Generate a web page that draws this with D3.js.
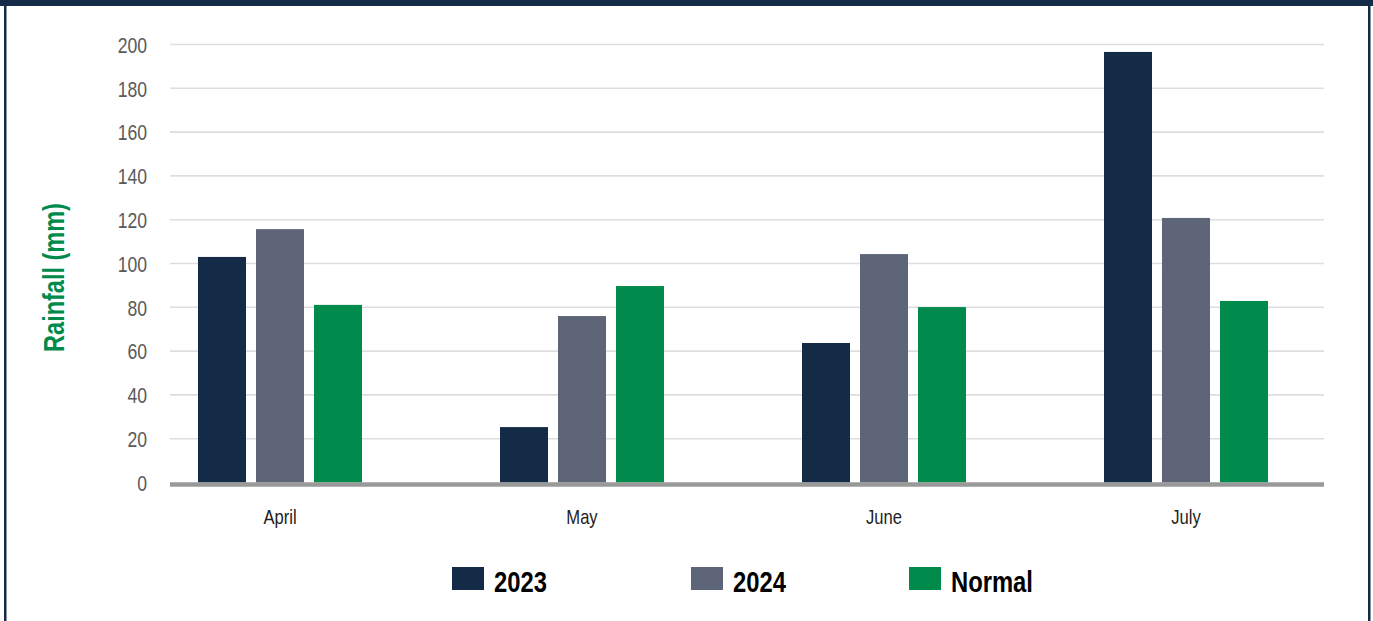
<!DOCTYPE html>
<html>
<head>
<meta charset="utf-8">
<script src="https://cdn.jsdelivr.net/npm/d3@7/dist/d3.min.js"></script>
<style>
  html, body { margin: 0; padding: 0; background: #ffffff; }
  svg { display: block; }
  .narrow { font-family: "Liberation Sans", Arial, sans-serif; }
</style>
</head>
<body>
<svg id="chart" width="1373" height="621"></svg>
<script>
// Monthly rainfall (mm)
const months = ["April", "May", "June", "July"];
const seriesNames = ["2023", "2024", "Normal"];
const rain2023 = [103.0, 25.3, 63.7, 196.6];
const rain2024 = [115.7, 76.0, 104.3, 120.8];
const rainNormal = [81.1, 89.7, 80.1, 82.9];
const yTicks = [0, 20, 40, 60, 80, 100, 120, 140, 160, 180, 200];
const seriesColors = ["#132b47", "#5f6579", "#008a4b"];

const seriesValues = [rain2023, rain2024, rainNormal];
const rows = months.map((m, i) => ({
  month: m,
  values: seriesNames.map((s, j) => ({ series: s, value: seriesValues[j][i] }))
}));

// squeeze text horizontally to a narrow face width
function condense(sel, factor = 0.82) {
  sel.each(function () {
    const len = this.getComputedTextLength();
    d3.select(this)
      .attr("textLength", len * factor)
      .attr("lengthAdjust", "spacingAndGlyphs");
  });
}

const svg = d3.select("#chart");
const W = 1373, H = 621;

// frame: thick top band and thin side rules
const frameColor = "#132b47";
svg.append("rect").attr("x", 0).attr("y", 0).attr("width", W).attr("height", 6).attr("fill", frameColor);
svg.append("rect").attr("x", 4).attr("y", 0).attr("width", 2.5).attr("height", H).attr("fill", frameColor);
svg.append("rect").attr("x", 1368).attr("y", 0).attr("width", 2.5).attr("height", H).attr("fill", frameColor);

const gridLeft = 170, gridRight = 1324;

const y = d3.scaleLinear().domain([0, 200]).range([482.5, 44.5]);
const x0 = d3.scaleBand().domain(months).range([129, 1337]);
const x1 = d3.scaleBand().domain(seriesNames).range([-82, 82]).paddingInner(10 / 58);
const color = d3.scaleOrdinal().domain(seriesNames).range(seriesColors);

// horizontal gridlines
svg.append("g")
  .selectAll("line")
  .data(yTicks.filter(t => t > 0))
  .join("line")
  .attr("x1", gridLeft).attr("x2", gridRight)
  .attr("y1", d => y(d)).attr("y2", d => y(d))
  .attr("stroke", "#dedede")
  .attr("stroke-width", 1.6);

// y axis tick labels
const yAxis = d3.axisLeft(y).tickValues(yTicks).tickSize(0).tickPadding(0);
const gy = svg.append("g").attr("transform", "translate(147,0)").call(yAxis);
gy.select(".domain").remove();
gy.selectAll("text")
  .attr("class", "narrow")
  .attr("font-family", null)
  .attr("font-size", 22)
  .attr("fill", "#5a5a5a")
  .attr("dy", "0.35em")
  .call(condense, 0.8);

// bars
const groups = svg.append("g")
  .selectAll("g")
  .data(rows)
  .join("g")
  .attr("transform", d => `translate(${x0(d.month) + x0.bandwidth() / 2},0)`);

groups.selectAll("rect")
  .data(d => d.values)
  .join("rect")
  .attr("x", d => x1(d.series))
  .attr("width", x1.bandwidth())
  .attr("y", d => y(d.value))
  .attr("height", d => y(0) - y(d.value))
  .attr("fill", d => color(d.series));

// baseline
svg.append("line")
  .attr("x1", gridLeft).attr("x2", gridRight)
  .attr("y1", y(0) + 2).attr("y2", y(0) + 2)
  .attr("stroke", "#999999")
  .attr("stroke-width", 4.5);

// x axis category labels
const xAxis = d3.axisBottom(x0).tickSize(0).tickPadding(0);
const gx = svg.append("g").attr("transform", `translate(0,${y(0)})`).call(xAxis);
gx.select(".domain").remove();
gx.selectAll("text")
  .attr("class", "narrow")
  .attr("font-family", null)
  .attr("font-size", 21)
  .attr("fill", "#222222")
  .attr("y", 41.5)
  .attr("dy", 0)
  .call(condense, 0.79);

// y axis title
svg.append("text")
  .attr("class", "narrow")
  .attr("transform", "translate(63.5,277.5) rotate(-90)")
  .attr("text-anchor", "middle")
  .attr("font-size", 29)
  .attr("font-weight", "bold")
  .attr("fill", "#008a4b")
  .text("Rainfall (mm)")
  .call(condense, 0.81);

// legend
const legendX = d3.scaleOrdinal().domain(seriesNames).range([452, 691, 909]);
const legend = svg.append("g")
  .selectAll("g")
  .data(seriesNames)
  .join("g")
  .attr("transform", d => `translate(${legendX(d)},567)`);

legend.append("rect")
  .attr("width", 32)
  .attr("height", 23)
  .attr("fill", d => color(d));

legend.append("text")
  .attr("class", "narrow")
  .attr("x", 42)
  .attr("y", 25)
  .attr("font-size", 29)
  .attr("font-weight", "bold")
  .attr("fill", "#000000")
  .text(d => d)
  .call(condense);
</script>
</body>
</html>
